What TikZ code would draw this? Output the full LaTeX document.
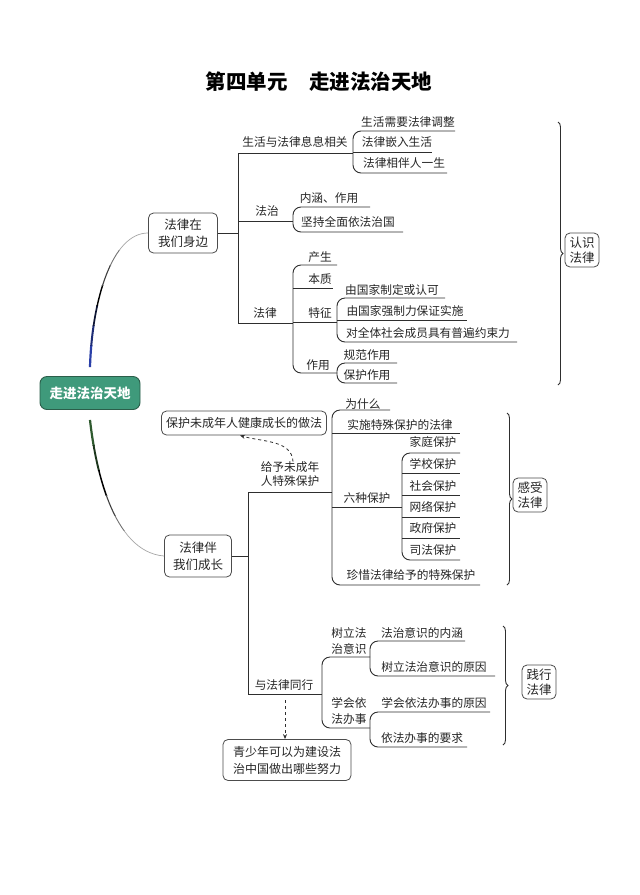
\documentclass[tikz,border=0pt]{standalone}
\usepackage{fontspec}
\setmainfont{Noto Sans CJK SC}
\usetikzlibrary{arrows.meta,decorations.pathreplacing}
\definecolor{rootgreen}{HTML}{3F9A7B}
\definecolor{rootedge}{HTML}{2B5E4A}
\definecolor{lnc}{HTML}{2E2E2E}
\definecolor{cblue}{HTML}{2A3FA8}
\definecolor{cgreen}{HTML}{2F5A2F}
\begin{document}
\begin{tikzpicture}[x=1pt,y=-1pt,
  ln/.style={draw=lnc, line width=0.9pt},
  br/.style={ln, rounded corners=8pt},
  lbl/.style={inner sep=0pt, font=\fontsize{11.7}{13}\selectfont, text=black!85, align=center},
  lbltwo/.style={lbl, font=\fontsize{11.7}{16}\selectfont},
  box/.style={draw=black!70, rounded corners=5pt, line width=0.8pt, fill=white, align=center, inner sep=0pt, text=black!85},
  bigbox/.style={box, font=\fontsize{12.5}{17}\selectfont},
  smallbox/.style={box, font=\fontsize{12.5}{15}\selectfont, minimum width=34pt, minimum height=34pt},
  bracefig/.style={draw=lnc, line width=0.9pt, decorate, decoration={brace, amplitude=5pt}},
  dasharrow/.style={draw=lnc, line width=0.8pt, dashed, -{Stealth[length=5pt,width=4pt]}}
]
\useasboundingbox[fill=white] (0,0) rectangle (640,895);

% title
\node[font=\fontsize{20.5}{24}\selectfont\bfseries] (title) at (319,82) {第四单元\hspace{22pt}走进法治天地};

% root
\node[draw=rootedge, fill=rootgreen, line width=0.9pt, rounded corners=7pt, minimum width=100pt, minimum height=33pt, inner sep=0pt, text=white, font=\fontsize{13.5}{15}\selectfont\bfseries] (root) at (90,393) {走进法治天地};

% level-1 boxes
\node[bigbox, minimum width=69pt, minimum height=40pt] (n1) at (183,233) {法律在\\我们身边};
\node[bigbox, minimum width=67pt, minimum height=42pt] (n2) at (198,556) {法律伴\\我们成长};

% root curves (colour drawn in bands to imitate the gradient)
\def\upcurve{([yshift=9pt]root.north) .. controls (92,300) and (112,233) .. (n1.west)}
\def\lowcurve{([yshift=-10pt]root.south) .. controls (95,465) and (112,552) .. (n2.west)}
\foreach \ya/\yb/\col/\w in {345/380/cblue/2.2, 325/345/cblue!70!black/2.0, 305/325/cblue!30!black/1.7, 285/305/black/1.4, 265/285/black!75/1.1, 250/265/black!55/0.9, 200/250/black!35/0.7}{
  \begin{scope}\clip (0,\ya) rectangle (200,\yb); \draw[line width=\w pt, \col] \upcurve; \end{scope}
}
\foreach \ya/\yb/\col/\w in {415/445/cgreen/2.2, 445/470/cgreen!60!black/1.9, 470/495/black/1.5, 495/515/black!75/1.1, 515/530/black!55/0.9, 530/570/black!35/0.7}{
  \begin{scope}\clip (0,\ya) rectangle (200,\yb); \draw[line width=\w pt, \col] \lowcurve; \end{scope}
}

% ---------- upper part ----------
\draw[ln] (n1.east) -- (238,233);
\draw[ln] (238,153) -- (238,323);
\draw[ln] (238,153) -- (353,153);
\draw[ln] (238,221) -- (293,221);
\draw[ln] (238,323) -- (293,323);

\node[lbl] (a1) at (295,142) {生活与法律息息相关};
\node[lbl] (a11) at (408,122) {生活需要法律调整};
\node[lbl] (a12) at (397,142) {法律嵌入生活};
\node[lbl] (a13) at (404,163) {法律相伴人一生};
\draw[br] (455,131) -- (353,131) -- (353,173) -- (447,173);
\draw[ln] (353,152) -- (432,152);

\node[lbl] (a2) at (267,211) {法治};
\node[lbl] (a21) at (329,198) {内涵、作用};
\node[lbl] (a22) at (348,222) {坚持全面依法治国};
\draw[br] (370,207) -- (293,207) -- (293,232) -- (403,232);

\node[lbl] (a3) at (265,313) {法律};
\node[lbl] (a31) at (320,257) {产生};
\node[lbl] (a32) at (320,279) {本质};
\node[lbl] (a33) at (320,313) {特征};
\node[lbl] (a34) at (318,365) {作用};
\draw[br] (337,265) -- (293,265) -- (293,373) -- (337,373);
\draw[ln] (293,288) -- (333,288);
\draw[ln] (293,322) -- (337,322);

\node[lbl] (a331) at (392,290) {由国家制定或认可};
\node[lbl] (a332) at (405,311) {由国家强制力保证实施};
\node[lbl] (a333) at (428,333) {对全体社会成员具有普遍约束力};
\draw[br] (445,298) -- (337,298) -- (337,342) -- (517,342);
\draw[ln] (337,320) -- (467,320);

\node[lbl] (a341) at (367,355) {规范作用};
\node[lbl] (a342) at (367,375) {保护作用};
\draw[br] (397,363) -- (337,363) -- (337,383) -- (397,383);

\draw[bracefig] (558,122) -- (558,385);
\node[smallbox] (k1) at (582,250) {认识\\法律};

% ---------- lower part ----------
\draw[ln] (n2.east) -- (248,556);
\draw[ln] (248,492) -- (248,694);
\draw[ln] (248,492) -- (332,492);
\draw[ln] (248,694) -- (322,694);

\node[lbl, font=\fontsize{11.7}{13.5}\selectfont] (b) at (290,474) {给予未成年\\人特殊保护};
\node[lbl] (c1) at (363,404) {为什么};
\node[lbl] (c2) at (400,425) {实施特殊保护的法律};
\node[lbl] (c3) at (367,498) {六种保护};
\node[lbl] (c4) at (411,575) {珍惜法律给予的特殊保护};
\draw[br] (390,410) -- (332,410) -- (332,585) -- (480,585);
\draw[ln] (332,433) -- (460,433);
\draw[ln] (332,507) -- (402,507);

\node[lbl] (c31) at (433,442) {家庭保护};
\node[lbl] (c32) at (433,464) {学校保护};
\node[lbl] (c33) at (433,486) {社会保护};
\node[lbl] (c34) at (433,507) {网络保护};
\node[lbl] (c35) at (433,528) {政府保护};
\node[lbl] (c36) at (433,550) {司法保护};
\draw[br] (460,453) -- (402,453) -- (402,560) -- (460,560);
\draw[ln] (402,473) -- (460,473);
\draw[ln] (402,495) -- (460,495);
\draw[ln] (402,517) -- (460,517);
\draw[ln] (402,538) -- (460,538);

\draw[bracefig] (507,413) -- (507,585);
\node[smallbox] (k2) at (530,495) {感受\\法律};

\node[box, font=\fontsize{12}{14}\selectfont, minimum width=165pt, minimum height=24pt] (b1) at (244,423) {保护未成年人健康成长的做法};
\draw[dasharrow] ([xshift=3pt]b.north) .. controls (292,440) and (262,442) .. ([xshift=-4pt]b1.south);

\node[lbl] (d) at (284,685) {与法律同行};
\node[lbltwo] (d1) at (349,641) {树立法\\治意识};
\node[lbltwo] (d2) at (349,711) {学会依\\法办事};
\draw[br] (370,657) -- (322,657) -- (322,728) -- (370,728);

\node[lbl] (d11) at (422,633) {法治意识的内涵};
\node[lbl] (d12) at (434,667) {树立法治意识的原因};
\draw[br] (465,641) -- (370,641) -- (370,676) -- (495,676);
\node[lbl] (d21) at (434,703) {学会依法办事的原因};
\node[lbl] (d22) at (422,738) {依法办事的要求};
\draw[br] (490,712) -- (370,712) -- (370,747) -- (467,747);

\draw[bracefig] (503,626) -- (503,745);
\node[smallbox] (k3) at (539,682) {践行\\法律};

\node[bigbox, font=\fontsize{12}{17}\selectfont, minimum width=128pt, minimum height=41pt] (b2) at (287,760) {青少年可以为建设法\\治中国做出哪些努力};
\coordinate (dstart) at (285,700);
\draw[dasharrow] (dstart) -- (dstart |- b2.north);
\end{tikzpicture}
\end{document}
